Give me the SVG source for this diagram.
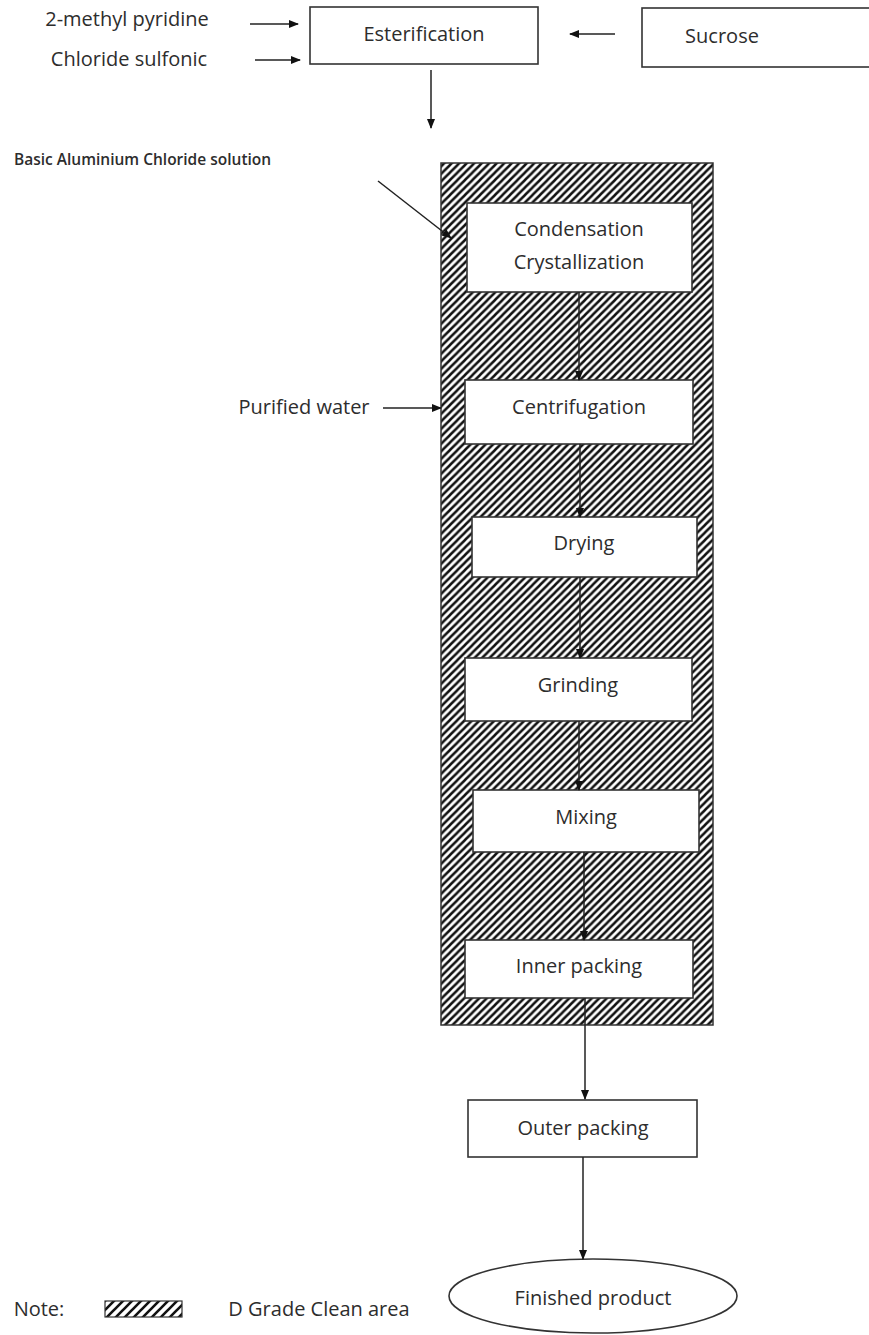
<svg xmlns="http://www.w3.org/2000/svg" width="869" height="1335" viewBox="0 0 869 1335">
<style>
text{font-family:"Open Sans","Liberation Sans",sans-serif;font-size:20px;fill:#2d2d2d;text-anchor:middle}
.box{fill:#fff;stroke:#333;stroke-width:1.6}
.conn line{stroke:#222;stroke-width:1.5;marker-end:url(#ah)}
</style>
<defs>
<marker id="ah" markerWidth="10" markerHeight="10" refX="9" refY="4" orient="auto" markerUnits="userSpaceOnUse">
<path d="M0,0 L10,4 L0,8 Z" fill="#111"/>
</marker>
<pattern id="hatch" patternUnits="userSpaceOnUse" width="7.5" height="7.5">
<rect width="7.5" height="7.5" fill="#fff"/>
<path d="M0,7.5 L7.5,0 M-2,2 L2,-2 M5.5,9.5 L9.5,5.5" stroke="#111" stroke-width="2.5"/>
</pattern>
<pattern id="hatch2" patternUnits="userSpaceOnUse" width="9" height="9" x="105" y="1301">
<rect width="9" height="9" fill="#fff"/>
<path d="M0,9 L9,0 M-2,2 L2,-2 M7,11 L11,7" stroke="#111" stroke-width="2.6"/>
</pattern>
</defs>
<g id="clean-area">
<rect x="441" y="163" width="272" height="862" fill="url(#hatch)" stroke="#333" stroke-width="1.5"/>
</g>
<g id="input-methyl"><text x="127" y="26">2-methyl pyridine</text></g>
<g id="input-chloride"><text x="129" y="66">Chloride sulfonic</text></g>
<g id="esterification"><rect class="box" x="310" y="7" width="228" height="57"/><text x="424" y="41">Esterification</text></g>
<g id="sucrose"><rect class="box" x="642" y="8" width="230" height="59"/><text x="722" y="43">Sucrose</text></g>
<g id="input-basic"><text x="14" y="165" style="text-anchor:start;font-size:15.5px;font-weight:600">Basic Aluminium Chloride solution</text></g>
<g id="condensation"><rect class="box" x="467" y="203" width="225" height="89"/><text x="579" y="236">Condensation</text><text x="579" y="269">Crystallization</text></g>
<g id="input-water"><text x="304" y="414">Purified water</text></g>
<g id="centrifugation"><rect class="box" x="465" y="380" width="228" height="64"/><text x="579" y="414">Centrifugation</text></g>
<g id="drying"><rect class="box" x="472" y="517" width="225" height="60"/><text x="584" y="550">Drying</text></g>
<g id="grinding"><rect class="box" x="465" y="658" width="227" height="63"/><text x="578" y="692">Grinding</text></g>
<g id="mixing"><rect class="box" x="473" y="790" width="226" height="62"/><text x="586" y="824">Mixing</text></g>
<g id="inner-packing"><rect class="box" x="465" y="940" width="228" height="58"/><text x="579" y="973">Inner packing</text></g>
<g id="outer-packing"><rect class="box" x="468" y="1100" width="229" height="57"/><text x="583" y="1135">Outer packing</text></g>
<g id="finished-product"><ellipse cx="593" cy="1296" rx="144" ry="37" fill="#fff" stroke="#333" stroke-width="1.6"/><text x="593" y="1305">Finished product</text></g>
<g id="legend">
<text x="39" y="1316">Note:</text>
<rect x="105" y="1301" width="77" height="16" fill="url(#hatch2)" stroke="#333" stroke-width="1.2"/>
<text x="319" y="1316">D Grade Clean area</text>
</g>
<g class="conn" id="connectors">
<line x1="250" y1="24" x2="298" y2="24"/>
<line x1="255" y1="60" x2="300" y2="60"/>
<line x1="615" y1="34" x2="570" y2="34"/>
<line x1="431" y1="70" x2="431" y2="128"/>
<line x1="378" y1="181" x2="451" y2="238"/>
<line x1="383" y1="408" x2="441" y2="408"/>
<line x1="579" y1="292" x2="579" y2="380"/>
<line x1="580" y1="444" x2="580" y2="517"/>
<line x1="580" y1="577" x2="580" y2="658"/>
<line x1="579" y1="721" x2="579" y2="790"/>
<line x1="584" y1="852" x2="584" y2="940"/>
<line x1="585" y1="998" x2="585" y2="1099"/>
<line x1="583" y1="1157" x2="583" y2="1259"/>
</g>
</svg>
